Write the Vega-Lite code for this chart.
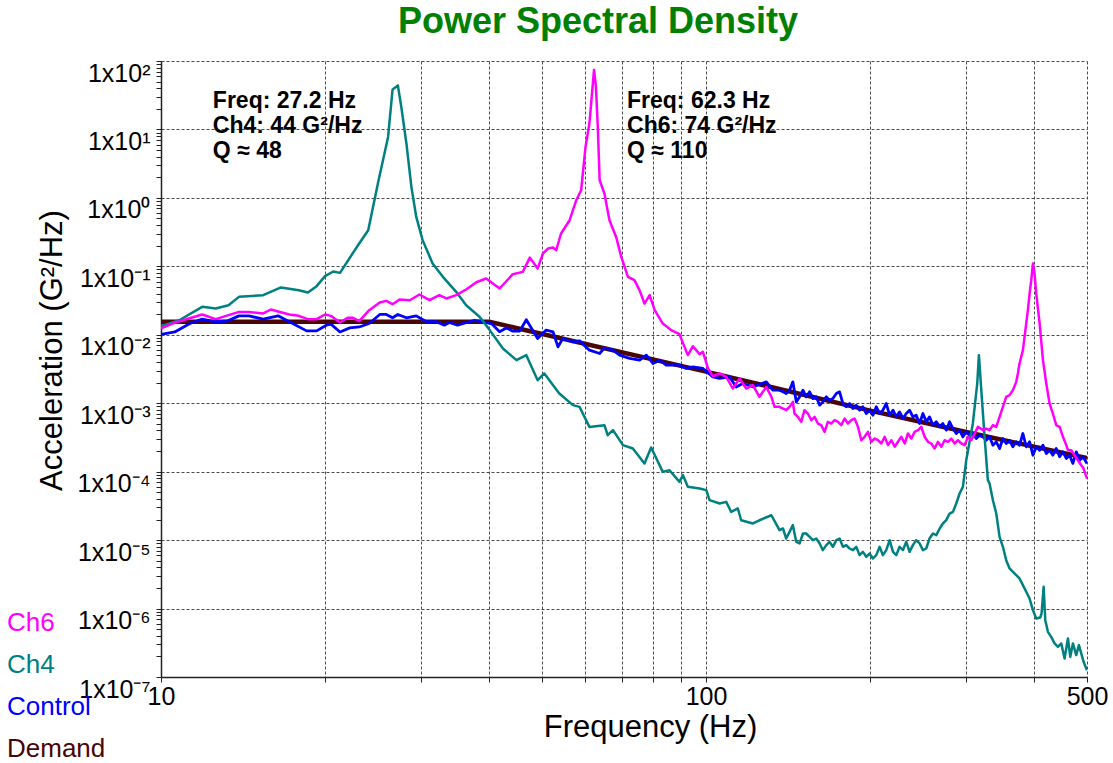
{
"$schema": "https://vega.github.io/schema/vega-lite/v6.json",
"width": 926, "height": 616,
"autosize": "none",
"padding": {"left": 161, "top": 61, "right": 26, "bottom": 86},
"background": "white",
"config": {"view": {"stroke": null}, "font": "Liberation Sans"},
"title": {"text": "Power Spectral Density", "font": "Liberation Sans", "fontSize": 36, "fontWeight": "bold", "color": "#008000", "anchor": "middle", "frame": "group", "dx": -26, "offset": -8, "baseline": "alphabetic"},
"datasets": {
"psd": [
{"s":"Demand","f":10,"v":0.0155},{"s":"Demand","f":40,"v":0.0155},{"s":"Demand","f":100,"v":0.0029},{"s":"Demand","f":200,"v":0.00078},{"s":"Demand","f":300,"v":0.00038},{"s":"Demand","f":500,"v":0.000158},
{"s":"Control","f":10,"v":0.0101},{"s":"Control","f":10.6,"v":0.0110},{"s":"Control","f":11.3,"v":0.0146},{"s":"Control","f":11.9,"v":0.0169},{"s":"Control","f":12.6,"v":0.0155},{"s":"Control","f":13.2,"v":0.0158},{"s":"Control","f":13.9,"v":0.0189},{"s":"Control","f":14.5,"v":0.0189},{"s":"Control","f":15.4,"v":0.0169},{"s":"Control","f":16.4,"v":0.0189},{"s":"Control","f":17.2,"v":0.0155},{"s":"Control","f":18.5,"v":0.0114},{"s":"Control","f":19.3,"v":0.0114},{"s":"Control","f":20.1,"v":0.0138},{"s":"Control","f":20.5,"v":0.0143},{"s":"Control","f":21.3,"v":0.0110},{"s":"Control","f":22.2,"v":0.0126},{"s":"Control","f":23.1,"v":0.0130},{"s":"Control","f":24.1,"v":0.0146},{"s":"Control","f":25.2,"v":0.0198},{"s":"Control","f":25.9,"v":0.0198},{"s":"Control","f":26.6,"v":0.0177},{"s":"Control","f":27.2,"v":0.0198},{"s":"Control","f":28.2,"v":0.0177},{"s":"Control","f":29.4,"v":0.0189},{"s":"Control","f":30.7,"v":0.0155},{"s":"Control","f":32.0,"v":0.0155},{"s":"Control","f":33.1,"v":0.0138},{"s":"Control","f":33.8,"v":0.0151},{"s":"Control","f":35.0,"v":0.0138},{"s":"Control","f":37.6,"v":0.0163},{"s":"Control","f":38.9,"v":0.0155},{"s":"Control","f":40.4,"v":0.0146},{"s":"Control","f":41.8,"v":0.0111},{"s":"Control","f":43.0,"v":0.0126},{"s":"Control","f":44.2,"v":0.0113},{"s":"Control","f":45.5,"v":0.0113},{"s":"Control","f":46.8,"v":0.0166},{"s":"Control","f":49.1,"v":0.00883},{"s":"Control","f":50.9,"v":0.0117},{"s":"Control","f":52.4,"v":0.0110},{"s":"Control","f":53.5,"v":0.00666},{"s":"Control","f":54.6,"v":0.00883},{"s":"Control","f":57.0,"v":0.00787},{"s":"Control","f":58.6,"v":0.00815},{"s":"Control","f":61.1,"v":0.00596},{"s":"Control","f":63.8,"v":0.00533},{"s":"Control","f":65.1,"v":0.00644},{"s":"Control","f":67.5,"v":0.00596},{"s":"Control","f":69.4,"v":0.00504},{"s":"Control","f":72.4,"v":0.00451},{"s":"Control","f":75.5,"v":0.00426},{"s":"Control","f":77.7,"v":0.00504},{"s":"Control","f":79.9,"v":0.00381},{"s":"Control","f":82.2,"v":0.00426},{"s":"Control","f":84.5,"v":0.00360},{"s":"Control","f":89.4,"v":0.00360},{"s":"Control","f":91.9,"v":0.00322},{"s":"Control","f":94.6,"v":0.00340},{"s":"Control","f":98.7,"v":0.00322},{"s":"Control","f":102.9,"v":0.00243},{"s":"Control","f":105.9,"v":0.00230},{"s":"Control","f":110.4,"v":0.00243},{"s":"Control","f":113.6,"v":0.00173},{"s":"Control","f":116.8,"v":0.00194},{"s":"Control","f":121.9,"v":0.00173},{"s":"Control","f":129.0,"v":0.00205},{"s":"Control","f":132.6,"v":0.00155},
{"s":"Control","f":136.4,"v":0.001551},{"s":"Control","f":138.4,"v":0.001466},{"s":"Control","f":140.3,"v":0.001386},{"s":"Control","f":142.3,"v":0.001551},{"s":"Control","f":144.3,"v":0.002053},{"s":"Control","f":146.4,"v":0.001047},{"s":"Control","f":148.5,"v":0.00124},{"s":"Control","f":150.6,"v":0.001551},{"s":"Control","f":152.7,"v":0.00124},{"s":"Control","f":154.9,"v":0.001466},{"s":"Control","f":157.1,"v":0.001172},{"s":"Control","f":159.3,"v":0.00124},{"s":"Control","f":161.6,"v":0.000937},{"s":"Control","f":163.8,"v":0.001047},{"s":"Control","f":166.2,"v":0.00124},{"s":"Control","f":168.5,"v":0.001108},{"s":"Control","f":170.9,"v":0.001172},{"s":"Control","f":173.4,"v":0.001386},{"s":"Control","f":175.8,"v":0.001466},{"s":"Control","f":178.3,"v":0.00099},{"s":"Control","f":180.8,"v":0.000886},{"s":"Control","f":183.4,"v":0.00099},{"s":"Control","f":186.0,"v":0.000837},{"s":"Control","f":188.6,"v":0.000937},{"s":"Control","f":191.3,"v":0.000791},{"s":"Control","f":194.0,"v":0.000886},{"s":"Control","f":196.8,"v":0.000707},{"s":"Control","f":199.5,"v":0.000791},{"s":"Control","f":202.4,"v":0.000669},{"s":"Control","f":205.3,"v":0.000886},{"s":"Control","f":208.2,"v":0.000707},{"s":"Control","f":211.1,"v":0.000791},{"s":"Control","f":214.1,"v":0.00099},{"s":"Control","f":217.2,"v":0.000669},{"s":"Control","f":220.3,"v":0.000791},{"s":"Control","f":223.4,"v":0.000632},{"s":"Control","f":226.5,"v":0.000748},{"s":"Control","f":229.8,"v":0.000598},{"s":"Control","f":233.0,"v":0.000707},{"s":"Control","f":236.3,"v":0.000791},{"s":"Control","f":239.6,"v":0.000632},{"s":"Control","f":243.0,"v":0.000669},{"s":"Control","f":246.5,"v":0.000505},{"s":"Control","f":250.0,"v":0.000707},{"s":"Control","f":253.5,"v":0.000535},{"s":"Control","f":257.1,"v":0.000632},{"s":"Control","f":260.8,"v":0.000478},{"s":"Control","f":264.5,"v":0.000535},{"s":"Control","f":268.3,"v":0.000452},{"s":"Control","f":272.0,"v":0.000505},{"s":"Control","f":275.9,"v":0.000404},{"s":"Control","f":279.8,"v":0.000535},{"s":"Control","f":283.8,"v":0.000427},{"s":"Control","f":287.8,"v":0.000361},{"s":"Control","f":291.9,"v":0.000404},{"s":"Control","f":296.0,"v":0.000323},{"s":"Control","f":300.2,"v":0.000382},{"s":"Control","f":304.5,"v":0.000341},{"s":"Control","f":308.8,"v":0.000361},{"s":"Control","f":313.2,"v":0.000305},{"s":"Control","f":317.6,"v":0.000341},{"s":"Control","f":322.1,"v":0.000323},{"s":"Control","f":326.7,"v":0.000288},{"s":"Control","f":331.3,"v":0.000323},{"s":"Control","f":336.0,"v":0.000244},{"s":"Control","f":340.8,"v":0.000273},{"s":"Control","f":345.6,"v":0.000218},{"s":"Control","f":350.5,"v":0.000305},{"s":"Control","f":355.4,"v":0.000258},{"s":"Control","f":360.5,"v":0.000288},{"s":"Control","f":365.6,"v":0.000231},{"s":"Control","f":370.8,"v":0.000273},{"s":"Control","f":376.0,"v":0.000244},{"s":"Control","f":381.4,"v":0.000361},{"s":"Control","f":386.8,"v":0.000231},{"s":"Control","f":392.3,"v":0.000273},{"s":"Control","f":397.9,"v":0.000174},{"s":"Control","f":403.5,"v":0.000231},{"s":"Control","f":409.3,"v":0.000206},{"s":"Control","f":415.1,"v":0.000244},{"s":"Control","f":421.0,"v":0.000184},{"s":"Control","f":426.9,"v":0.000206},{"s":"Control","f":432.9,"v":0.000174},{"s":"Control","f":439.1,"v":0.000218},{"s":"Control","f":445.4,"v":0.000165},{"s":"Control","f":451.7,"v":0.000195},{"s":"Control","f":458.1,"v":0.000156},{"s":"Control","f":464.6,"v":0.000174},{"s":"Control","f":471.1,"v":0.000132},{"s":"Control","f":477.8,"v":0.000195},{"s":"Control","f":484.6,"v":0.000147},{"s":"Control","f":491.5,"v":0.000165},{"s":"Control","f":500,"v":0.000132},
{"s":"Ch4","f":10,"v":0.0134},{"s":"Ch4","f":10.8,"v":0.0163},{"s":"Ch4","f":11.9,"v":0.0256},{"s":"Ch4","f":12.6,"v":0.0242},{"s":"Ch4","f":13.3,"v":0.0270},{"s":"Ch4","f":13.9,"v":0.0358},{"s":"Ch4","f":15.4,"v":0.0379},{"s":"Ch4","f":16.6,"v":0.0491},{"s":"Ch4","f":17.9,"v":0.0448},{"s":"Ch4","f":18.6,"v":0.0415},{"s":"Ch4","f":19.3,"v":0.0513},{"s":"Ch4","f":20.0,"v":0.0718},{"s":"Ch4","f":20.7,"v":0.0841},{"s":"Ch4","f":21.3,"v":0.0802},{"s":"Ch4","f":22.5,"v":0.157},{"s":"Ch4","f":23.1,"v":0.216},{"s":"Ch4","f":24.0,"v":0.337},{"s":"Ch4","f":25.0,"v":1.62},{"s":"Ch4","f":26.1,"v":7.78},{"s":"Ch4","f":26.6,"v":38.4},{"s":"Ch4","f":27.2,"v":44},{"s":"Ch4","f":27.6,"v":21.3},{"s":"Ch4","f":28.2,"v":6.24},{"s":"Ch4","f":28.8,"v":1.45},{"s":"Ch4","f":29.4,"v":0.527},{"s":"Ch4","f":30.2,"v":0.241},{"s":"Ch4","f":31.5,"v":0.110},{"s":"Ch4","f":32.9,"v":0.0702},{"s":"Ch4","f":34.8,"v":0.0424},{"s":"Ch4","f":36.3,"v":0.0270},{"s":"Ch4","f":38.4,"v":0.0183},{"s":"Ch4","f":40.1,"v":0.0117},{"s":"Ch4","f":42.4,"v":0.00631},{"s":"Ch4","f":44.9,"v":0.00426},{"s":"Ch4","f":46.8,"v":0.00504},{"s":"Ch4","f":49.1,"v":0.00217},{"s":"Ch4","f":50.5,"v":0.00272},{"s":"Ch4","f":53.8,"v":0.00139},{"s":"Ch4","f":57.0,"v":0.000937},{"s":"Ch4","f":58.6,"v":0.000885},{"s":"Ch4","f":61.1,"v":0.000451},{"s":"Ch4","f":65.1,"v":0.000478},{"s":"Ch4","f":66.0,"v":0.000341},{"s":"Ch4","f":67.5,"v":0.000404},{"s":"Ch4","f":70.4,"v":0.000244},{"s":"Ch4","f":73.4,"v":0.000218},{"s":"Ch4","f":77.1,"v":0.000132},{"s":"Ch4","f":79.3,"v":0.000226},{"s":"Ch4","f":83.3,"v":0.0000993},{"s":"Ch4","f":85.7,"v":0.000105},{"s":"Ch4","f":89.4,"v":0.000071},{"s":"Ch4","f":90.7,"v":0.0000889},{"s":"Ch4","f":92.6,"v":0.00006},{"s":"Ch4","f":97.3,"v":0.0000569},{"s":"Ch4","f":100.1,"v":0.0000537},{"s":"Ch4","f":101.5,"v":0.0000384},{"s":"Ch4","f":105.9,"v":0.0000343},{"s":"Ch4","f":108.9,"v":0.0000362},{"s":"Ch4","f":111.2,"v":0.0000259},{"s":"Ch4","f":114.4,"v":0.000029},{"s":"Ch4","f":116.0,"v":0.0000195},{"s":"Ch4","f":121.9,"v":0.0000175},{"s":"Ch4","f":125.3,"v":0.0000195},{"s":"Ch4","f":131.8,"v":0.0000231},
{"s":"Ch4","f":136.4,"v":0.00001397},{"s":"Ch4","f":138.4,"v":0.00001478},{"s":"Ch4","f":140.3,"v":0.00001056},{"s":"Ch4","f":142.3,"v":0.00001321},{"s":"Ch4","f":144.3,"v":0.00001654},{"s":"Ch4","f":146.4,"v":0.00000944},{"s":"Ch4","f":148.5,"v":0.00000893},{"s":"Ch4","f":150.6,"v":0.00001249},{"s":"Ch4","f":152.7,"v":0.00001249},{"s":"Ch4","f":154.9,"v":0.00001117},{"s":"Ch4","f":157.1,"v":0.00000998},{"s":"Ch4","f":159.3,"v":0.00001056},{"s":"Ch4","f":161.6,"v":0.00000893},{"s":"Ch4","f":163.8,"v":0.00000713},{"s":"Ch4","f":166.2,"v":0.00000844},{"s":"Ch4","f":168.5,"v":0.00000944},{"s":"Ch4","f":170.9,"v":0.00000798},{"s":"Ch4","f":173.4,"v":0.00000998},{"s":"Ch4","f":175.8,"v":0.00001056},{"s":"Ch4","f":178.3,"v":0.00000798},{"s":"Ch4","f":180.8,"v":0.00000844},{"s":"Ch4","f":183.4,"v":0.00000754},{"s":"Ch4","f":186.0,"v":0.00000713},{"s":"Ch4","f":188.6,"v":0.00000798},{"s":"Ch4","f":191.3,"v":0.00000603},{"s":"Ch4","f":194.0,"v":0.00000674},{"s":"Ch4","f":196.8,"v":0.0000057},{"s":"Ch4","f":199.5,"v":0.00000637},{"s":"Ch4","f":202.4,"v":0.00000539},{"s":"Ch4","f":205.3,"v":0.00000603},{"s":"Ch4","f":208.2,"v":0.00000798},{"s":"Ch4","f":211.1,"v":0.00000603},{"s":"Ch4","f":214.1,"v":0.00000713},{"s":"Ch4","f":217.2,"v":0.00000998},{"s":"Ch4","f":220.3,"v":0.00000674},{"s":"Ch4","f":223.4,"v":0.00000603},{"s":"Ch4","f":226.5,"v":0.00000798},{"s":"Ch4","f":229.8,"v":0.00000713},{"s":"Ch4","f":233.0,"v":0.00000944},{"s":"Ch4","f":236.3,"v":0.00000674},{"s":"Ch4","f":239.6,"v":0.00000844},{"s":"Ch4","f":243.0,"v":0.00000998},{"s":"Ch4","f":246.5,"v":0.00000893},{"s":"Ch4","f":250.0,"v":0.00000713},{"s":"Ch4","f":253.5,"v":0.00000754},{"s":"Ch4","f":257.1,"v":0.00001056},{"s":"Ch4","f":260.8,"v":0.00001249},{"s":"Ch4","f":264.5,"v":0.00001181},{"s":"Ch4","f":268.3,"v":0.00001478},{"s":"Ch4","f":272.0,"v":0.00001748},{"s":"Ch4","f":275.9,"v":0.00001956},{"s":"Ch4","f":279.8,"v":0.00002447},{"s":"Ch4","f":283.8,"v":0.00002588},{"s":"Ch4","f":287.8,"v":0.00003426},{"s":"Ch4","f":291.9,"v":0.000048},{"s":"Ch4","f":296.0,"v":0.00006},{"s":"Ch4","f":300.2,"v":0.000147},{"s":"Ch4","f":308.7,"v":0.000506},{"s":"Ch4","f":314.5,"v":0.00195},{"s":"Ch4","f":316.7,"v":0.00504},{"s":"Ch4","f":319.9,"v":0.00155},{"s":"Ch4","f":324.4,"v":0.000322},{"s":"Ch4","f":328.9,"v":0.0000751},{"s":"Ch4","f":331.3,"v":0.0000671},{"s":"Ch4","f":336.0,"v":0.0000383},{"s":"Ch4","f":340.8,"v":0.0000245},{"s":"Ch4","f":345.6,"v":0.00001117},{"s":"Ch4","f":350.5,"v":0.00000798},{"s":"Ch4","f":355.4,"v":0.00000509},{"s":"Ch4","f":360.5,"v":0.00000385},{"s":"Ch4","f":365.6,"v":0.00000344},{"s":"Ch4","f":370.8,"v":0.00000308},{"s":"Ch4","f":376.0,"v":0.00000275},{"s":"Ch4","f":381.4,"v":0.0000022},{"s":"Ch4","f":386.8,"v":0.00000176},{"s":"Ch4","f":392.3,"v":0.0000014},{"s":"Ch4","f":397.9,"v":0.000000948},{"s":"Ch4","f":403.5,"v":0.000000716},{"s":"Ch4","f":410.4,"v":0.00000074},{"s":"Ch4","f":412.7,"v":0.000000847},{"s":"Ch4","f":416.3,"v":0.00000208},{"s":"Ch4","f":419.2,"v":0.000000677},{"s":"Ch4","f":423.9,"v":0.000000457},{"s":"Ch4","f":429.9,"v":0.000000386},{"s":"Ch4","f":436.0,"v":0.000000309},{"s":"Ch4","f":442.2,"v":0.000000276},{"s":"Ch4","f":448.5,"v":0.000000309},{"s":"Ch4","f":454.8,"v":0.000000186},{"s":"Ch4","f":461.3,"v":0.000000365},{"s":"Ch4","f":465.9,"v":0.000000197},{"s":"Ch4","f":471.1,"v":0.000000309},{"s":"Ch4","f":477.8,"v":0.000000209},{"s":"Ch4","f":483.2,"v":0.000000292},{"s":"Ch4","f":488.0,"v":0.000000221},{"s":"Ch4","f":492.8,"v":0.000000167},{"s":"Ch4","f":500,"v":0.000000125},
{"s":"Ch6","f":10,"v":0.0124},{"s":"Ch6","f":10.7,"v":0.0154},{"s":"Ch6","f":11.9,"v":0.0198},{"s":"Ch6","f":12.6,"v":0.0169},{"s":"Ch6","f":13.9,"v":0.0216},{"s":"Ch6","f":14.5,"v":0.0216},{"s":"Ch6","f":15.4,"v":0.0205},{"s":"Ch6","f":15.9,"v":0.0234},{"s":"Ch6","f":17.2,"v":0.0198},{"s":"Ch6","f":17.9,"v":0.0189},{"s":"Ch6","f":18.6,"v":0.0169},{"s":"Ch6","f":19.3,"v":0.0169},{"s":"Ch6","f":20.0,"v":0.0198},{"s":"Ch6","f":20.5,"v":0.0189},{"s":"Ch6","f":21.3,"v":0.0151},{"s":"Ch6","f":22.0,"v":0.0177},{"s":"Ch6","f":22.5,"v":0.0177},{"s":"Ch6","f":23.1,"v":0.0158},{"s":"Ch6","f":24.1,"v":0.0229},{"s":"Ch6","f":25.2,"v":0.0296},{"s":"Ch6","f":25.9,"v":0.0313},{"s":"Ch6","f":26.6,"v":0.0280},{"s":"Ch6","f":27.4,"v":0.0328},{"s":"Ch6","f":28.6,"v":0.0320},{"s":"Ch6","f":29.8,"v":0.0388},{"s":"Ch6","f":31.1,"v":0.0320},{"s":"Ch6","f":32.4,"v":0.0379},{"s":"Ch6","f":33.4,"v":0.0339},{"s":"Ch6","f":34.8,"v":0.0379},{"s":"Ch6","f":36.3,"v":0.0459},{"s":"Ch6","f":37.9,"v":0.0586},{"s":"Ch6","f":39.5,"v":0.0664},{"s":"Ch6","f":41.8,"v":0.0474},{"s":"Ch6","f":44.2,"v":0.0767},{"s":"Ch6","f":46.1,"v":0.0830},{"s":"Ch6","f":47.5,"v":0.134},{"s":"Ch6","f":49.1,"v":0.0931},{"s":"Ch6","f":50.2,"v":0.154},{"s":"Ch6","f":51.3,"v":0.182},{"s":"Ch6","f":52.4,"v":0.188},{"s":"Ch6","f":53.1,"v":0.172},{"s":"Ch6","f":54.2,"v":0.302},{"s":"Ch6","f":56.2,"v":0.472},{"s":"Ch6","f":57.8,"v":0.925},{"s":"Ch6","f":59.0,"v":1.29},{"s":"Ch6","f":60.1,"v":5.56},{"s":"Ch6","f":61.1,"v":12.2},{"s":"Ch6","f":62.3,"v":74},{"s":"Ch6","f":62.8,"v":41.9},{"s":"Ch6","f":63.3,"v":10.9},{"s":"Ch6","f":63.8,"v":1.81},{"s":"Ch6","f":65.1,"v":1.16},{"s":"Ch6","f":66.5,"v":0.472},{"s":"Ch6","f":68.4,"v":0.269},{"s":"Ch6","f":69.9,"v":0.137},{"s":"Ch6","f":71.9,"v":0.0702},{"s":"Ch6","f":73.9,"v":0.0628},{"s":"Ch6","f":75.5,"v":0.0449},{"s":"Ch6","f":77.1,"v":0.0286},{"s":"Ch6","f":78.8,"v":0.0379},{"s":"Ch6","f":80.5,"v":0.0229},{"s":"Ch6","f":83.3,"v":0.0146},{"s":"Ch6","f":86.3,"v":0.0117},{"s":"Ch6","f":89.4,"v":0.0102},{"s":"Ch6","f":91.3,"v":0.00666},{"s":"Ch6","f":92.6,"v":0.00504},{"s":"Ch6","f":94.6,"v":0.00681},{"s":"Ch6","f":97.3,"v":0.00521},{"s":"Ch6","f":98.7,"v":0.00562},{"s":"Ch6","f":100.8,"v":0.00325},{"s":"Ch6","f":102.9,"v":0.00248},{"s":"Ch6","f":105.9,"v":0.00272},{"s":"Ch6","f":108.9,"v":0.00243},{"s":"Ch6","f":112.0,"v":0.00164},{"s":"Ch6","f":115.2,"v":0.0023},{"s":"Ch6","f":118.5,"v":0.00164},{"s":"Ch6","f":121.9,"v":0.00184},{"s":"Ch6","f":125.3,"v":0.00124},{"s":"Ch6","f":129.0,"v":0.00173},{"s":"Ch6","f":131.8,"v":0.00124},{"s":"Ch6","f":133.6,"v":0.000885},
{"s":"Ch6","f":136.4,"v":0.000886},{"s":"Ch6","f":138.4,"v":0.000837},{"s":"Ch6","f":140.3,"v":0.000791},{"s":"Ch6","f":142.3,"v":0.000886},{"s":"Ch6","f":144.3,"v":0.001047},{"s":"Ch6","f":145.3,"v":0.000707},{"s":"Ch6","f":147.4,"v":0.000632},{"s":"Ch6","f":149.5,"v":0.000535},{"s":"Ch6","f":151.6,"v":0.000791},{"s":"Ch6","f":153.8,"v":0.000707},{"s":"Ch6","f":156.0,"v":0.000565},{"s":"Ch6","f":158.2,"v":0.000632},{"s":"Ch6","f":160.4,"v":0.000505},{"s":"Ch6","f":162.7,"v":0.000478},{"s":"Ch6","f":165.0,"v":0.000382},{"s":"Ch6","f":167.3,"v":0.000535},{"s":"Ch6","f":169.7,"v":0.000505},{"s":"Ch6","f":172.1,"v":0.000565},{"s":"Ch6","f":174.6,"v":0.000535},{"s":"Ch6","f":177.0,"v":0.000478},{"s":"Ch6","f":179.6,"v":0.000598},{"s":"Ch6","f":182.1,"v":0.000505},{"s":"Ch6","f":184.7,"v":0.000565},{"s":"Ch6","f":187.3,"v":0.000598},{"s":"Ch6","f":190.0,"v":0.000452},{"s":"Ch6","f":192.7,"v":0.000288},{"s":"Ch6","f":195.4,"v":0.000323},{"s":"Ch6","f":198.2,"v":0.000382},{"s":"Ch6","f":201.0,"v":0.000273},{"s":"Ch6","f":203.9,"v":0.000305},{"s":"Ch6","f":206.8,"v":0.000288},{"s":"Ch6","f":209.7,"v":0.000258},{"s":"Ch6","f":212.7,"v":0.000323},{"s":"Ch6","f":215.7,"v":0.000244},{"s":"Ch6","f":218.8,"v":0.000288},{"s":"Ch6","f":221.9,"v":0.000231},{"s":"Ch6","f":225.0,"v":0.000273},{"s":"Ch6","f":228.2,"v":0.000323},{"s":"Ch6","f":231.5,"v":0.000258},{"s":"Ch6","f":234.7,"v":0.000361},{"s":"Ch6","f":238.1,"v":0.000305},{"s":"Ch6","f":241.4,"v":0.000382},{"s":"Ch6","f":244.9,"v":0.000404},{"s":"Ch6","f":248.3,"v":0.000452},{"s":"Ch6","f":251.8,"v":0.000323},{"s":"Ch6","f":255.4,"v":0.000273},{"s":"Ch6","f":259.0,"v":0.000258},{"s":"Ch6","f":262.7,"v":0.000218},{"s":"Ch6","f":266.4,"v":0.000273},{"s":"Ch6","f":270.2,"v":0.000231},{"s":"Ch6","f":274.0,"v":0.000288},{"s":"Ch6","f":277.9,"v":0.000273},{"s":"Ch6","f":281.8,"v":0.000305},{"s":"Ch6","f":285.8,"v":0.000258},{"s":"Ch6","f":289.9,"v":0.000288},{"s":"Ch6","f":294.0,"v":0.000258},{"s":"Ch6","f":298.2,"v":0.000244},{"s":"Ch6","f":302.4,"v":0.000323},{"s":"Ch6","f":306.7,"v":0.000288},{"s":"Ch6","f":311.0,"v":0.000361},{"s":"Ch6","f":315.4,"v":0.000452},{"s":"Ch6","f":322.1,"v":0.000404},{"s":"Ch6","f":326.7,"v":0.000427},{"s":"Ch6","f":331.3,"v":0.000404},{"s":"Ch6","f":336.0,"v":0.000478},{"s":"Ch6","f":340.8,"v":0.000452},{"s":"Ch6","f":345.6,"v":0.000632},{"s":"Ch6","f":350.5,"v":0.000886},{"s":"Ch6","f":355.4,"v":0.00124},{"s":"Ch6","f":360.5,"v":0.001311},{"s":"Ch6","f":365.6,"v":0.001551},{"s":"Ch6","f":370.8,"v":0.002053},{"s":"Ch6","f":373.4,"v":0.002716},{"s":"Ch6","f":376.0,"v":0.0038},{"s":"Ch6","f":381.4,"v":0.00596},{"s":"Ch6","f":386.8,"v":0.01461},{"s":"Ch6","f":389.5,"v":0.02287},{"s":"Ch6","f":392.3,"v":0.04007},{"s":"Ch6","f":395.1,"v":0.0627},{"s":"Ch6","f":397.9,"v":0.110},{"s":"Ch6","f":400.6,"v":0.0785},{"s":"Ch6","f":403.5,"v":0.04007},{"s":"Ch6","f":409.3,"v":0.01461},{"s":"Ch6","f":415.1,"v":0.00426},{"s":"Ch6","f":421.0,"v":0.001941},{"s":"Ch6","f":426.9,"v":0.00099},{"s":"Ch6","f":432.9,"v":0.000707},{"s":"Ch6","f":439.1,"v":0.000478},{"s":"Ch6","f":445.4,"v":0.000452},{"s":"Ch6","f":451.7,"v":0.000323},{"s":"Ch6","f":458.1,"v":0.000244},{"s":"Ch6","f":461.3,"v":0.000206},{"s":"Ch6","f":467.7,"v":0.000206},{"s":"Ch6","f":474.5,"v":0.000174},{"s":"Ch6","f":481.2,"v":0.000147},{"s":"Ch6","f":488.0,"v":0.000124},{"s":"Ch6","f":492.8,"v":0.000111},{"s":"Ch6","f":500,"v":0.0000794}
],
"note4": [{"f": 27.2, "v": 44, "t": ["Freq: 27.2 Hz", "Ch4: 44 G²/Hz", "Q ≈ 48"]}],
"note6": [{"f": 62.3, "v": 74, "t": ["Freq: 62.3 Hz", "Ch6: 74 G²/Hz", "Q ≈ 110"]}]
},
"encoding": {
"x": {"field": "f", "type": "quantitative", "title": "Frequency (Hz)",
 "scale": {"type": "log", "domain": [10, 500], "nice": false},
 "axis": {"values": [10,20,30,40,50,60,70,80,90,100,200,300,400,500],
  "labelExpr": "datum.value == 10 || datum.value == 100 || datum.value == 500 ? '' + datum.value : ''",
  "labelFont": "Liberation Sans", "labelFontSize": 25, "labelColor": "#000", "labelPadding": 2, "labelOverlap": false, "labelFlush": false, "labelBaseline": "top",
  "tickSize": 5, "tickColor": "#222", "domainColor": "#222", "domainWidth": 1.5,
  "grid": true, "gridColor": "#4a4a4a", "gridDash": [3, 2], "gridWidth": 1,
  "titleFont": "Liberation Sans", "titleFontSize": 31, "titleFontWeight": "normal", "titleColor": "#000",
  "titleX": 489, "titleY": 50, "titleBaseline": "middle", "titleAlign": "center"}},
"y": {"field": "v", "type": "quantitative", "title": "Acceleration (G²/Hz)",
 "scale": {"type": "log", "domain": [1e-7, 100], "nice": false},
 "axis": {"values": [1e-7,2e-7,3e-7,4e-7,5e-7,6e-7,7e-7,8e-7,9e-7,1e-6,2e-6,3e-6,4e-6,5e-6,6e-6,7e-6,8e-6,9e-6,1e-5,2e-5,3e-5,4e-5,5e-5,6e-5,7e-5,8e-5,9e-5,0.0001,0.0002,0.0003,0.0004,0.0005,0.0006,0.0007,0.0008,0.0009,0.001,0.002,0.003,0.004,0.005,0.006,0.007,0.008,0.009,0.01,0.02,0.03,0.04,0.05,0.06,0.07,0.08,0.09,0.1,0.2,0.3,0.4,0.5,0.6,0.7,0.8,0.9,1,2,3,4,5,6,7,8,9,10,20,30,40,50,60,70,80,90,100],
  "labelExpr": "abs(log(datum.value)/LN10 - round(log(datum.value)/LN10)) < 0.001 ? ['1x10⁻⁷','1x10⁻⁶','1x10⁻⁵','1x10⁻⁴','1x10⁻³','1x10⁻²','1x10⁻¹','1x10⁰','1x10¹','1x10²'][round(log(datum.value)/LN10) + 7] : ''",
  "labelFont": "Liberation Sans", "labelFontSize": 25, "labelColor": "#000", "labelPadding": 6, "labelOverlap": false, "labelFlush": false, "labelBaseline": "top",
  "tickSize": 5, "tickColor": "#222", "domainColor": "#222", "domainWidth": 1.5,
  "grid": true, "gridColor": "#4a4a4a", "gridDash": [3, 2], "gridWidth": 1,
  "gridOpacity": {"condition": {"test": "abs(log(datum.value)/LN10 - round(log(datum.value)/LN10)) < 0.001", "value": 1}, "value": 0},
  "titleFont": "Liberation Sans", "titleFontSize": 31, "titleFontWeight": "normal", "titleColor": "#000",
  "titleX": -109, "titleY": 289, "titleAngle": 270, "titleBaseline": "middle", "titleAlign": "center"}},
"color": {"field": "s", "type": "nominal",
 "scale": {"domain": ["Ch6", "Ch4", "Control", "Demand"], "range": ["#FF00FF", "#008080", "#0000FF", "#4A0505"]},
 "legend": {"orient": "none", "legendX": -180, "legendY": 549, "title": null, "symbolSize": 0, "symbolOpacity": 0, "symbolStrokeWidth": 0,
  "labelFont": "Liberation Sans", "labelFontSize": 26, "labelOffset": 0, "rowPadding": 16, "padding": 0, "labelLimit": 300,
  "encode": {"labels": {"update": {"fill": {"scale": "color", "field": "value"}}}}}}
},
"layer": [
{"data": {"name": "psd"}, "transform": [{"filter": "datum.s == 'Demand'"}],
 "mark": {"type": "line", "clip": true, "strokeJoin": "round", "strokeWidth": 4.5}},
{"data": {"name": "psd"}, "transform": [{"filter": "datum.s == 'Control'"}],
 "mark": {"type": "line", "clip": true, "strokeJoin": "round", "strokeWidth": 2.8}},
{"data": {"name": "psd"}, "transform": [{"filter": "datum.s == 'Ch4'"}],
 "mark": {"type": "line", "clip": true, "strokeJoin": "round", "strokeWidth": 2.5}},
{"data": {"name": "psd"}, "transform": [{"filter": "datum.s == 'Ch6'"}],
 "mark": {"type": "line", "clip": true, "strokeJoin": "round", "strokeWidth": 2.5}},
{"data": {"name": "note4"},
 "mark": {"type": "text", "align": "left", "baseline": "alphabetic", "dx": -185, "dy": 23, "font": "Liberation Sans", "fontSize": 23, "fontWeight": "bold", "lineHeight": 25},
 "encoding": {"text": {"field": "t", "type": "nominal"}, "color": {"value": "#000000"}}},
{"data": {"name": "note6"},
 "mark": {"type": "text", "align": "left", "baseline": "alphabetic", "dx": 33, "dy": 38, "font": "Liberation Sans", "fontSize": 23, "fontWeight": "bold", "lineHeight": 25},
 "encoding": {"text": {"field": "t", "type": "nominal"}, "color": {"value": "#000000"}}}
]
}
